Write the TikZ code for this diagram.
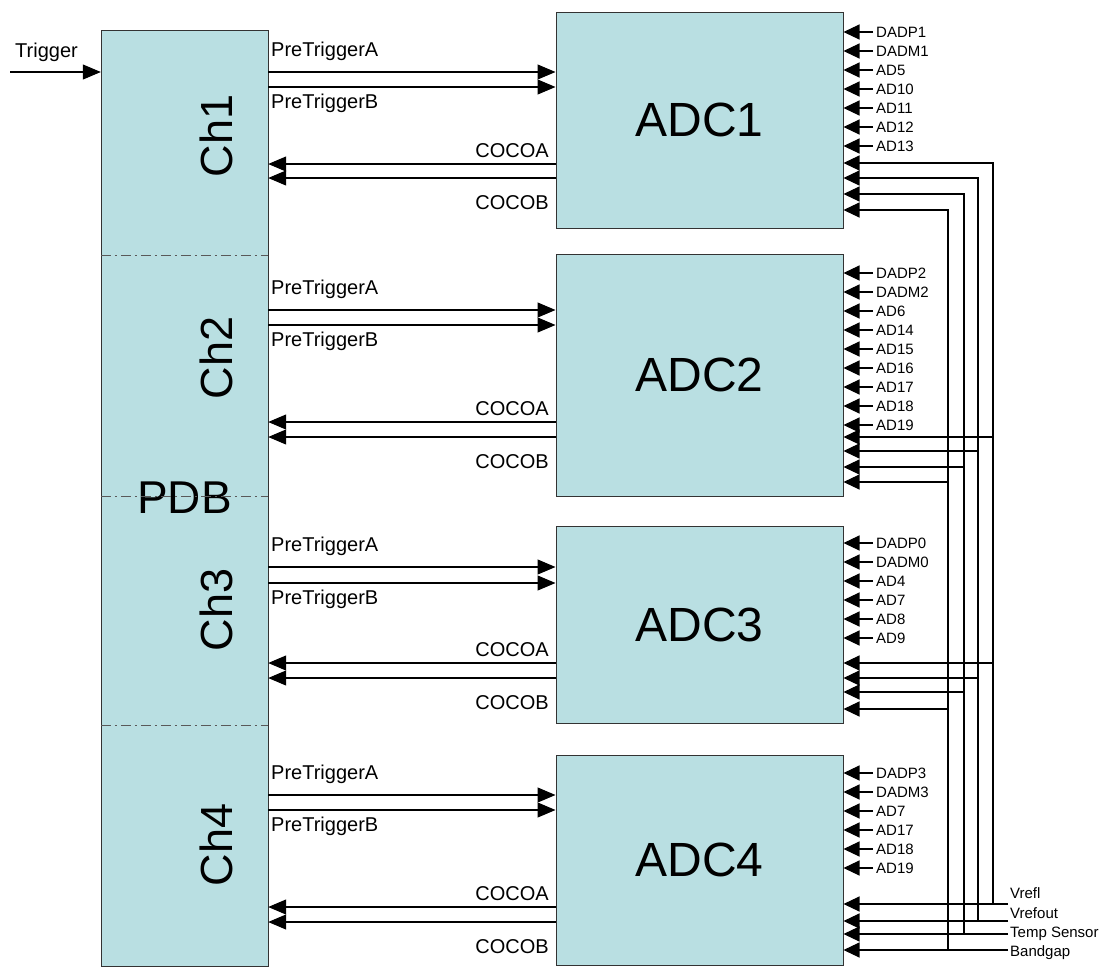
\documentclass[tikz,border=0pt]{standalone}
\usepackage{fontspec}
\setmainfont{Liberation Sans}
\usepackage{xcolor}
\usetikzlibrary{arrows.meta}
\definecolor{boxfill}{HTML}{B9DFE2}
\newcommand{\adctxt}{\fontsize{48}{52}\selectfont}
\newcommand{\chtxt}{\fontsize{45}{50}\selectfont}
\newcommand{\sigtxt}{\fontsize{20}{24}\selectfont}
\newcommand{\pintxt}{\fontsize{15}{18}\selectfont}

\begin{document}
\begin{tikzpicture}[x=1pt,y=-1pt,
    blk/.style={draw=black!80,line width=1pt,fill=boxfill,inner sep=0pt},
    adc/.style={blk,minimum width=287pt,font=\adctxt},
    chan/.style={inner sep=0pt,minimum width=167pt},
    chlabel/.style={rotate=90,inner sep=0pt,font=\chtxt},
    divider/.style={black!65,line width=0.9pt,dash pattern=on 10pt off 4pt on 2pt off 4pt},
    sig/.style={line width=1.1pt,-{Triangle[length=18pt,width=15pt]}},
    pin/.style={line width=1.1pt,-{Triangle[length=16pt,width=15pt]}},
    sigl/.style={inner sep=0pt,font=\sigtxt},
    pinl/.style={inner sep=0pt,anchor=base west,font=\pintxt}]
  \useasboundingbox (0,0) rectangle (1109,967);

  % PDB with its four channels
  \node[blk,minimum width=167pt,minimum height=936pt,font=\fontsize{46}{50}\selectfont] (pdb) at (184.5,498) {PDB};
  \node[chan,minimum height=225pt] (ch1) at (184.5,142.5) {};
  \node[chan,minimum height=241pt] (ch2) at (184.5,375.5) {};
  \node[chan,minimum height=229pt] (ch3) at (184.5,610.5) {};
  \node[chan,minimum height=241pt] (ch4) at (184.5,845.5) {};
  \foreach \i in {1,2,3}
    \draw[divider] (ch\i.south west) -- (ch\i.south east);
  \foreach \i/\y in {1/136,2/358,3/610,4/845}
    \node[chlabel] (chlbl\i) at (216,\y) {Ch\i};

  % ADCs
  \node[adc,minimum height=216pt] (adc1) at (699.5,120) {ADC1};
  \node[adc,minimum height=242pt] (adc2) at (699.5,375) {ADC2};
  \node[adc,minimum height=197pt] (adc3) at (699.5,624.5) {ADC3};
  \node[adc,minimum height=210pt] (adc4) at (699.5,860) {ADC4};

  \coordinate (trig) at (10,72);
  \node[sigl,anchor=base west] (triglbl) at (15,57) {Trigger};
  \draw[sig] (trig) -- (ch1.west |- trig);

  \foreach \i/\ya/\yb/\yc/\yd in {1/72/87/164/178,2/310/325/422/437,3/567/583/663/678,4/795/810/907/922}{
    \draw[sig] (ch\i.east |- 0,\ya) -- (adc\i.west |- 0,\ya);
    \draw[sig] (ch\i.east |- 0,\yb) -- (adc\i.west |- 0,\yb);
    \draw[sig] (adc\i.west |- 0,\yc) -- (ch\i.east |- 0,\yc);
    \draw[sig] (adc\i.west |- 0,\yd) -- (ch\i.east |- 0,\yd);
    \node[sigl,anchor=base west] (pta\i) at (271,\ya-16) {PreTriggerA};
    \node[sigl,anchor=base west] (ptb\i) at (271,\yb+21) {PreTriggerB};
    \node[sigl,anchor=base east] (cca\i) at (549,\yc-7) {COCOA};
    \node[sigl,anchor=base east] (ccb\i) at (549,\yd+31) {COCOB};
  }

  % analog inputs
  \foreach \a/\y/\lst in {1/32/{DADP1,DADM1,AD5,AD10,AD11,AD12,AD13},
      2/273/{DADP2,DADM2,AD6,AD14,AD15,AD16,AD17,AD18,AD19},
      3/543/{DADP0,DADM0,AD4,AD7,AD8,AD9},
      4/773/{DADP3,DADM3,AD7,AD17,AD18,AD19}}{
    \foreach \t [count=\k from 0] in \lst {
      \pgfmathsetmacro\py{\y+19*\k}
      \node[pinl] (in\a-\k) at (876,\py+5.5) {\t};
      \draw[pin] (873,\py) -- (adc\a.east |- 0,\py);
    }
  }

  % shared inputs
  \foreach \n/\x/\ya/\yb/\yc/\yd/\yl/\t in {1/993/163/437/663/904/893/Vrefl,
      2/978/178/451/678/921/913/Vrefout,
      3/964/194/467/692/934/932/Temp Sensor,
      4/948/210/482/709/950/951/Bandgap}{
    \coordinate (bus\n) at (1008,\yd);
    \node[pinl] (buslbl\n) at (1010,\yl+5.5) {\t};
    \draw[pin] (bus\n) -- (adc4.east |- bus\n);
    \draw[pin] (bus\n -| \x,0) -- (\x,\ya) -- (adc1.east |- 0,\ya);
    \draw[pin] (\x,\yb) -- (adc2.east |- 0,\yb);
    \draw[pin] (\x,\yc) -- (adc3.east |- 0,\yc);
  }
\end{tikzpicture}
\end{document}
